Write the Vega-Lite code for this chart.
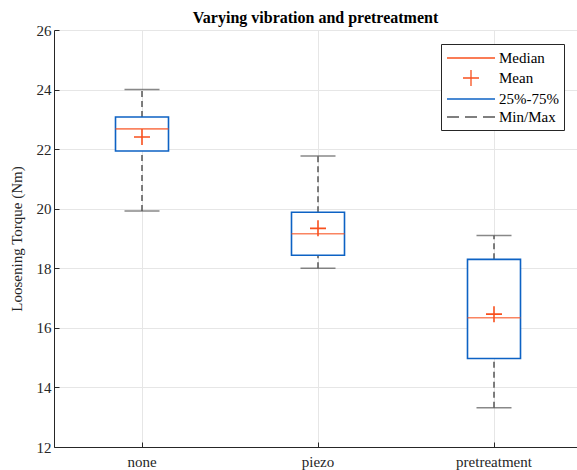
{
  "$schema": "https://vega.github.io/schema/vega-lite/v6.json",
  "width": 523,
  "height": 417,
  "autosize": {"type": "none"},
  "padding": {"left": 54, "top": 30, "right": 0, "bottom": 23},
  "background": "white",
  "title": {"text": "Varying vibration and pretreatment", "font": "Times New Roman, Liberation Serif, serif", "fontSize": 16, "fontWeight": "bold", "color": "#000000", "frame": "group", "offset": -3},
  "config": {
    "view": {"stroke": null},
    "font": "Times New Roman, Liberation Serif, serif",
    "axis": {"labelFont": "Times New Roman, Liberation Serif, serif", "labelFontSize": 15, "labelColor": "#262626", "titleFont": "Times New Roman, Liberation Serif, serif", "titleFontSize": 15, "titleFontWeight": "normal", "titleColor": "#262626", "domainColor": "#262626", "tickColor": "#262626", "gridColor": "#e6e6e6", "gridWidth": 1},
    "legend": {"labelFont": "Times New Roman, Liberation Serif, serif"}
  },
  "data": {"values": [
    {"cat": "none", "min": 19.92, "q1": 21.94, "median": 22.68, "q3": 23.08, "max": 24.0, "mean": 22.41},
    {"cat": "piezo", "min": 18.0, "q1": 18.44, "median": 19.16, "q3": 19.88, "max": 21.77, "mean": 19.34},
    {"cat": "pretreatment", "min": 13.32, "q1": 14.97, "median": 16.34, "q3": 18.3, "max": 19.1, "mean": 16.46}
  ]},
  "encoding": {
    "x": {"field": "cat", "type": "nominal", "sort": null,
      "scale": {"type": "band", "domain": ["none", "piezo", "pretreatment"], "range": [0, 528], "paddingInner": 0, "paddingOuter": 0},
      "axis": {"title": null, "labelAngle": 0, "grid": true, "bandPosition": 0.5, "tickSize": -5, "labelPadding": 12}
    }
  },
  "layer": [
    {"mark": {"type": "rule", "color": "#555555", "strokeWidth": 1.5, "strokeDash": [6, 4]},
     "encoding": {"y": {"field": "min", "type": "quantitative", "scale": {"domain": [12, 26], "nice": false}, "axis": {"title": "Loosening Torque (Nm)", "values": [12, 14, 16, 18, 20, 22, 24, 26], "grid": true, "tickSize": -5, "labelPadding": 8, "titlePadding": 12}}, "y2": {"field": "q1"}}},
    {"mark": {"type": "rule", "color": "#555555", "strokeWidth": 1.5, "strokeDash": [6, 4]},
     "encoding": {"y": {"field": "q3", "type": "quantitative"}, "y2": {"field": "max"}}},
    {"mark": {"type": "tick", "color": "#555555", "thickness": 1.5, "size": 35, "orient": "horizontal"},
     "encoding": {"y": {"field": "min", "type": "quantitative"}}},
    {"mark": {"type": "tick", "color": "#555555", "thickness": 1.5, "size": 35, "orient": "horizontal"},
     "encoding": {"y": {"field": "max", "type": "quantitative"}}},
    {"mark": {"type": "bar", "fill": "white", "stroke": "#0D62C4", "strokeWidth": 1.6, "size": 53},
     "encoding": {"y": {"field": "q1", "type": "quantitative"}, "y2": {"field": "q3"}}},
    {"mark": {"type": "tick", "color": "#F8501E", "thickness": 1.6, "size": 53, "orient": "horizontal"},
     "encoding": {"y": {"field": "median", "type": "quantitative"}}},
    {"mark": {"type": "point", "filled": false, "strokeWidth": 1.6, "size": 256, "opacity": 1},
     "encoding": {
       "y": {"field": "mean", "type": "quantitative"},
       "color": {"datum": "Mean", "scale": {"domain": ["Median", "Mean", "25%-75%", "Min/Max"], "range": ["#F8501E", "#F8501E", "#0D62C4", "#555555"]},
         "legend": {"title": null, "orient": "none", "legendX": 387, "legendY": 14, "strokeColor": "#262626", "fillColor": "white", "padding": 5, "rowPadding": 1, "symbolSize": 256, "symbolOffset": 16, "symbolStrokeWidth": 1.3, "labelFontSize": 15, "labelColor": "#000000", "labelOffset": 19}},
       "shape": {"datum": "Mean", "scale": {"domain": ["Median", "Mean", "25%-75%", "Min/Max"], "range": ["M-3,0H3", "M-1,0H1M0,-1V1", "M-3,0H3", "M-3,0H-1.5M-0.75,0H0.75M1.5,0H3"]}}
     }}
  ]
}
